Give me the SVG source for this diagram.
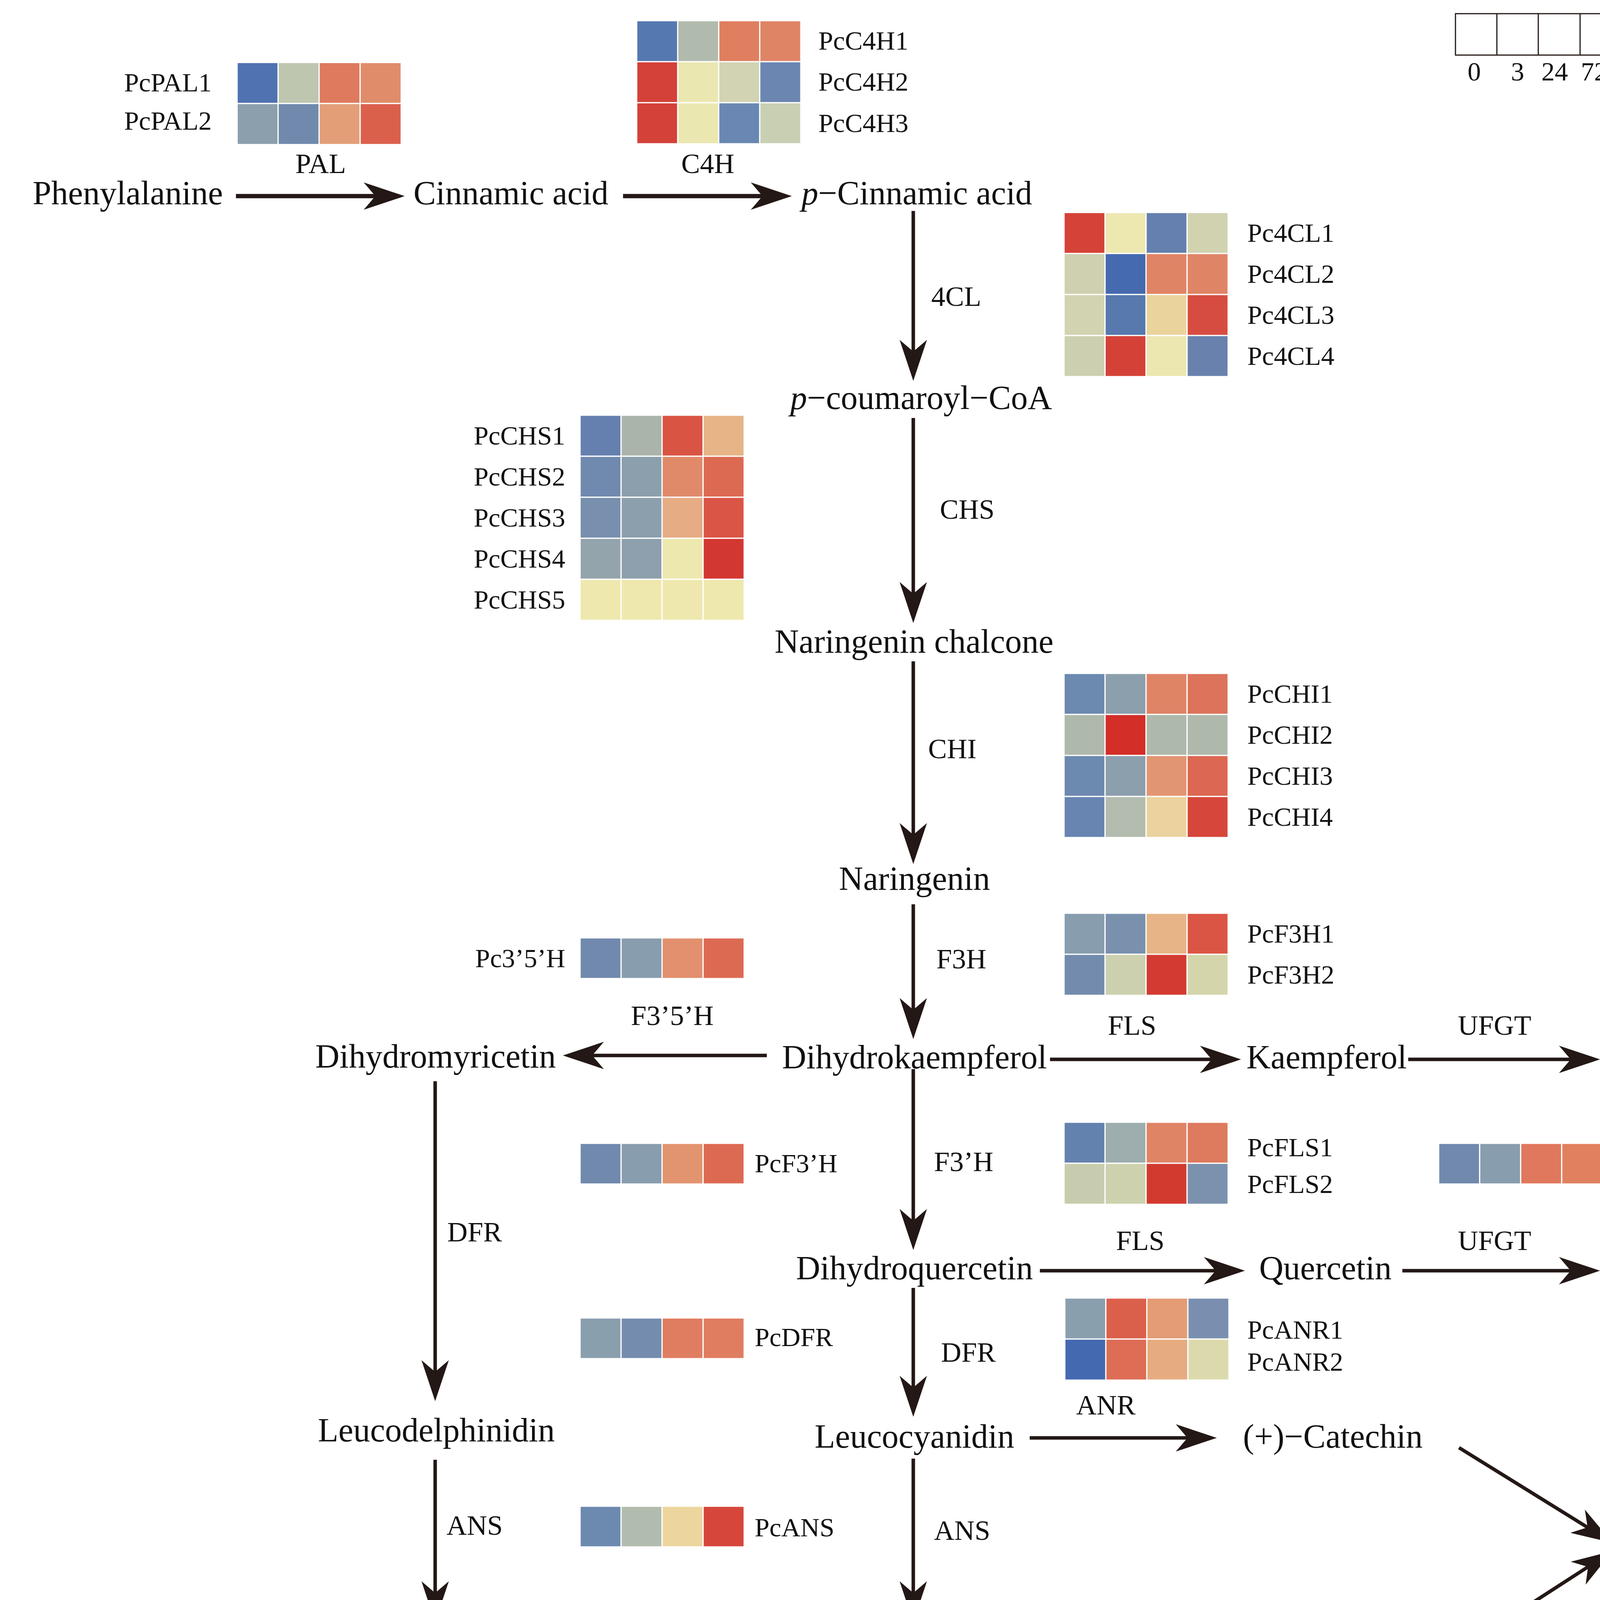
<svg xmlns="http://www.w3.org/2000/svg" width="4934" height="4875" viewBox="0 0 4934 4875">
<defs>
<style>
text{font-family:"Liberation Serif","Times New Roman",serif;fill:#111}
.m{font-size:86px;text-anchor:middle}
.e{font-size:72px;text-anchor:middle}
.g{font-size:68px}
.ge{font-size:68px;text-anchor:end}
.t{font-size:48px}
.c rect{stroke:#fff;stroke-width:3}
.a{stroke:#231815;stroke-width:9;fill:none;marker-end:url(#ah)}
.a2{stroke:#231815;stroke-width:11;fill:none;marker-end:url(#ah)}
</style>
<marker id="ah" markerUnits="userSpaceOnUse" markerWidth="105" markerHeight="70" refX="45" refY="35" orient="auto" viewBox="0 0 105 70">
<path d="M0,0 L105,35 L0,70 L30,35 Z" fill="#231815"/>
</marker>
<linearGradient id="cb" x1="0" y1="0" x2="0" y2="1">
<stop offset="0" stop-color="#d6302b"/>
<stop offset="0.1667" stop-color="#df6a52"/>
<stop offset="0.3333" stop-color="#e6a67e"/>
<stop offset="0.5" stop-color="#eee9ad"/>
<stop offset="0.6667" stop-color="#b8bfae"/>
<stop offset="0.8333" stop-color="#8196b3"/>
<stop offset="1" stop-color="#3a5fb0"/>
</linearGradient>
</defs>
<rect width="4934" height="4875" fill="#fff"/>

<!-- legend -->
<g id="legend">
<g fill="none" stroke="#231815" stroke-width="3">
<rect x="3726" y="35" width="425" height="106"/>
<line x1="3832" y1="35" x2="3832" y2="141"/>
<line x1="3938" y1="35" x2="3938" y2="141"/>
<line x1="4045" y1="35" x2="4045" y2="141"/>
</g>
<text class="g" x="3774" y="206" text-anchor="middle">0</text>
<text class="g" x="3885" y="206" text-anchor="middle">3</text>
<text class="g" x="3980" y="206" text-anchor="middle">24</text>
<text class="g" x="4081" y="206" text-anchor="middle">72</text>
<text class="g" x="4157" y="206" text-anchor="middle">h</text>
</g>
<g id="colorbar">
<rect x="4521" y="247" width="109" height="638" fill="url(#cb)"/>
<g stroke="#111" stroke-width="3">
<line x1="4630" y1="247" x2="4630" y2="885"/>
<line x1="4630" y1="247" x2="4642" y2="247"/>
<line x1="4630" y1="353" x2="4642" y2="353"/>
<line x1="4630" y1="459" x2="4642" y2="459"/>
<line x1="4630" y1="566" x2="4642" y2="566"/>
<line x1="4630" y1="672" x2="4642" y2="672"/>
<line x1="4630" y1="778" x2="4642" y2="778"/>
<line x1="4630" y1="885" x2="4642" y2="885"/>
</g>
<text class="t" x="4655" y="257">1.50</text>
<text class="t" x="4655" y="362">1.00</text>
<text class="t" x="4655" y="467">0.50</text>
<text class="t" x="4655" y="574">0.00</text>
<text class="t" x="4655" y="680">-0.50</text>
<text class="t" x="4655" y="786">-1.00</text>
<text class="t" x="4655" y="890">-1.50</text>
</g>

<!-- connectors -->
<g id="connectors">
<line class="a2" x1="604" y1="502" x2="976" y2="502"/>
<line class="a2" x1="1595" y1="502" x2="1967" y2="502"/>
<line class="a" x1="2338" y1="540" x2="2338" y2="915"/>
<line class="a" x1="2338" y1="1070" x2="2338" y2="1535"/>
<line class="a" x1="2338" y1="1693" x2="2338" y2="2152"/>
<line class="a" x1="2338" y1="2315" x2="2338" y2="2600"/>
<line class="a" x1="2338" y1="2737" x2="2338" y2="3140"/>
<line class="a" x1="2338" y1="3297" x2="2338" y2="3567"/>
<line class="a" x1="2338" y1="3734" x2="2338" y2="4093"/>
<line class="a" x1="2338" y1="4263" x2="2338" y2="4533"/>
<line class="a" x1="1963" y1="2702" x2="1501" y2="2702"/>
<line class="a" x1="1114" y1="2768" x2="1114" y2="3527"/>
<line class="a" x1="1114" y1="3737" x2="1114" y2="4093"/>
<line class="a" x1="1114" y1="4263" x2="1114" y2="4533"/>
<line class="a" x1="2688" y1="2712" x2="3117" y2="2712"/>
<line class="a" x1="3605" y1="2712" x2="4036" y2="2712"/>
<line class="a" x1="2662" y1="3253" x2="3127" y2="3253"/>
<line class="a" x1="3590" y1="3253" x2="4036" y2="3253"/>
<line class="a" x1="2636" y1="3681" x2="3055" y2="3681"/>
<line class="a" x1="2539" y1="4213" x2="3102" y2="4213"/>
<line class="a" x1="3735" y1="3706" x2="4077" y2="3918"/>
<line class="a" x1="3753" y1="4213" x2="4078" y2="4003"/>
</g>

<!-- compound nodes -->
<g id="n-phenylalanine"><text class="m" x="327" y="523">Phenylalanine</text></g>
<g id="n-cinnamic"><text class="m" x="1308" y="523">Cinnamic acid</text></g>
<g id="n-pcinnamic"><text class="m" x="2347" y="523"><tspan font-style="italic">p</tspan>−Cinnamic acid</text></g>
<g id="n-coumaroyl"><text class="m" x="2358" y="1047"><tspan font-style="italic">p</tspan>−coumaroyl−CoA</text></g>
<g id="n-chalcone"><text class="m" x="2340" y="1671">Naringenin chalcone</text></g>
<g id="n-naringenin"><text class="m" x="2341" y="2278">Naringenin</text></g>
<g id="n-dihydromyricetin"><text class="m" x="1115" y="2733">Dihydromyricetin</text></g>
<g id="n-dihydrokaempferol"><text class="m" x="2341" y="2735">Dihydrokaempferol</text></g>
<g id="n-kaempferol"><text class="m" x="3396" y="2735">Kaempferol</text></g>
<g id="n-flavonol1"><text class="m" x="4464" y="2735">Flavonol glucosides</text></g>
<g id="n-dihydroquercetin"><text class="m" x="2341" y="3275">Dihydroquercetin</text></g>
<g id="n-quercetin"><text class="m" x="3393" y="3275">Quercetin</text></g>
<g id="n-flavonol2"><text class="m" x="4464" y="3275">Flavonol glucosides</text></g>
<g id="n-leucodelphinidin"><text class="m" x="1117" y="3690">Leucodelphinidin</text></g>
<g id="n-leucocyanidin"><text class="m" x="2341" y="3706">Leucocyanidin</text></g>
<g id="n-catechin"><text class="m" x="3412" y="3706">(+)−Catechin</text></g>
<g id="n-proanthocyanidin"><text class="m" x="4441" y="3973">Proanthocyanidin</text></g>
<g id="n-delphinidin"><text class="m" x="1115" y="4232">Delphinidin</text></g>
<g id="n-cyanidin"><text class="m" x="2339" y="4235">Cyanidin</text></g>
<g id="n-epicatechin"><text class="m" x="3451" y="4235">(-)−Epicatechin</text></g>
<g id="n-delph3g"><text class="m" x="1136" y="4672">Delphinidin 3−O−glucoside</text></g>
<g id="n-cyan3g"><text class="m" x="2360" y="4672">Cyanidin 3−O−glucoside</text></g>

<!-- enzyme labels -->
<g id="enzymes">
<text class="e" x="821" y="443">PAL</text>
<text class="e" x="1812" y="443">C4H</text>
<text class="e" x="2448" y="783">4CL</text>
<text class="e" x="2476" y="1328">CHS</text>
<text class="e" x="2438" y="1941">CHI</text>
<text class="e" x="2461" y="2479">F3H</text>
<text class="e" x="1721" y="2624">F3’5’H</text>
<text class="e" x="2898" y="2649">FLS</text>
<text class="e" x="3826" y="2649">UFGT</text>
<text class="e" x="2467" y="2998">F3’H</text>
<text class="e" x="1215" y="3178">DFR</text>
<text class="e" x="2919" y="3200">FLS</text>
<text class="e" x="3826" y="3200">UFGT</text>
<text class="e" x="2479" y="3486">DFR</text>
<text class="e" x="2831" y="3621">ANR</text>
<text class="e" x="1215" y="3929">ANS</text>
<text class="e" x="2463" y="3942">ANS</text>
<text class="e" x="2831" y="4143">LAR</text>
<text class="e" x="1233" y="4420">UFGT</text>
<text class="e" x="2492" y="4420">UFGT</text>
</g>

<!-- heatmaps -->
<g id="hm-pal" class="c">
<rect x="607" y="160" width="105" height="105" fill="#4f72b0"/><rect x="712" y="160" width="105" height="105" fill="#bfc6b0"/><rect x="817" y="160" width="105" height="105" fill="#df7a5e"/><rect x="922" y="160" width="105" height="105" fill="#e08c6a"/>
<rect x="607" y="265" width="105" height="105" fill="#8c9fad"/><rect x="712" y="265" width="105" height="105" fill="#7089ad"/><rect x="817" y="265" width="105" height="105" fill="#e39e77"/><rect x="922" y="265" width="105" height="105" fill="#db604c"/>
<text class="ge" x="542" y="234">PcPAL1</text>
<text class="ge" x="542" y="332">PcPAL2</text>
</g>
<g id="hm-c4h" class="c">
<rect x="1630" y="53" width="105" height="105" fill="#5578b0"/><rect x="1735" y="53" width="105" height="105" fill="#b0bbad"/><rect x="1840" y="53" width="105" height="105" fill="#e07e60"/><rect x="1945" y="53" width="105" height="105" fill="#e08466"/>
<rect x="1630" y="158" width="105" height="105" fill="#d44139"/><rect x="1735" y="158" width="105" height="105" fill="#ebe7b0"/><rect x="1840" y="158" width="105" height="105" fill="#d1d3b3"/><rect x="1945" y="158" width="105" height="105" fill="#6b86b0"/>
<rect x="1630" y="263" width="105" height="105" fill="#d44139"/><rect x="1735" y="263" width="105" height="105" fill="#ebe7b0"/><rect x="1840" y="263" width="105" height="105" fill="#6987b2"/><rect x="1945" y="263" width="105" height="105" fill="#c9cfb2"/>
<text class="g" x="2095" y="127">PcC4H1</text>
<text class="g" x="2095" y="232">PcC4H2</text>
<text class="g" x="2095" y="338">PcC4H3</text>
</g>
<g id="hm-4cl" class="c">
<rect x="2724" y="544" width="105" height="105" fill="#d54237"/><rect x="2829" y="544" width="105" height="105" fill="#ede8b0"/><rect x="2934" y="544" width="105" height="105" fill="#6580ae"/><rect x="3039" y="544" width="105" height="105" fill="#d0d2b0"/>
<rect x="2724" y="649" width="105" height="105" fill="#cfd0b0"/><rect x="2829" y="649" width="105" height="105" fill="#456aad"/><rect x="2934" y="649" width="105" height="105" fill="#e08466"/><rect x="3039" y="649" width="105" height="105" fill="#e08466"/>
<rect x="2724" y="754" width="105" height="105" fill="#d2d3b0"/><rect x="2829" y="754" width="105" height="105" fill="#5779ae"/><rect x="2934" y="754" width="105" height="105" fill="#ead49c"/><rect x="3039" y="754" width="105" height="105" fill="#d74c40"/>
<rect x="2724" y="859" width="105" height="105" fill="#cdd0b0"/><rect x="2829" y="859" width="105" height="105" fill="#d44137"/><rect x="2934" y="859" width="105" height="105" fill="#ece7b0"/><rect x="3039" y="859" width="105" height="105" fill="#6882ad"/>
<text class="g" x="3193" y="619">Pc4CL1</text>
<text class="g" x="3193" y="724">Pc4CL2</text>
<text class="g" x="3193" y="829">Pc4CL3</text>
<text class="g" x="3193" y="934">Pc4CL4</text>
</g>
<g id="hm-chs" class="c">
<rect x="1485" y="1063" width="105" height="105" fill="#6580ae"/><rect x="1590" y="1063" width="105" height="105" fill="#aab4ab"/><rect x="1695" y="1063" width="105" height="105" fill="#da5444"/><rect x="1800" y="1063" width="105" height="105" fill="#e6b486"/>
<rect x="1485" y="1168" width="105" height="105" fill="#7089ae"/><rect x="1590" y="1168" width="105" height="105" fill="#8b9fad"/><rect x="1695" y="1168" width="105" height="105" fill="#e08a6a"/><rect x="1800" y="1168" width="105" height="105" fill="#dc6a52"/>
<rect x="1485" y="1273" width="105" height="105" fill="#788fae"/><rect x="1590" y="1273" width="105" height="105" fill="#8c9fad"/><rect x="1695" y="1273" width="105" height="105" fill="#e6ac83"/><rect x="1800" y="1273" width="105" height="105" fill="#da5546"/>
<rect x="1485" y="1378" width="105" height="105" fill="#94a4ad"/><rect x="1590" y="1378" width="105" height="105" fill="#8ea0ad"/><rect x="1695" y="1378" width="105" height="105" fill="#ede8ae"/><rect x="1800" y="1378" width="105" height="105" fill="#d33731"/>
<rect x="1485" y="1483" width="105" height="105" fill="#efe8ae"/><rect x="1590" y="1483" width="105" height="105" fill="#efe8ae"/><rect x="1695" y="1483" width="105" height="105" fill="#efe8ae"/><rect x="1800" y="1483" width="105" height="105" fill="#efe8ae"/>
<text class="ge" x="1447" y="1138">PcCHS1</text>
<text class="ge" x="1447" y="1243">PcCHS2</text>
<text class="ge" x="1447" y="1348">PcCHS3</text>
<text class="ge" x="1447" y="1453">PcCHS4</text>
<text class="ge" x="1447" y="1558">PcCHS5</text>
</g>
<g id="hm-chi" class="c">
<rect x="2724" y="1724" width="105" height="105" fill="#6c89b0"/><rect x="2829" y="1724" width="105" height="105" fill="#8c9fad"/><rect x="2934" y="1724" width="105" height="105" fill="#e08466"/><rect x="3039" y="1724" width="105" height="105" fill="#dc735a"/>
<rect x="2724" y="1829" width="105" height="105" fill="#aeb8ab"/><rect x="2829" y="1829" width="105" height="105" fill="#d32e28"/><rect x="2934" y="1829" width="105" height="105" fill="#aeb8ab"/><rect x="3039" y="1829" width="105" height="105" fill="#aeb8ab"/>
<rect x="2724" y="1934" width="105" height="105" fill="#6c89b0"/><rect x="2829" y="1934" width="105" height="105" fill="#8c9fad"/><rect x="2934" y="1934" width="105" height="105" fill="#e29572"/><rect x="3039" y="1934" width="105" height="105" fill="#dc6752"/>
<rect x="2724" y="2039" width="105" height="105" fill="#6884b0"/><rect x="2829" y="2039" width="105" height="105" fill="#b3bcae"/><rect x="2934" y="2039" width="105" height="105" fill="#ebd29e"/><rect x="3039" y="2039" width="105" height="105" fill="#d6463b"/>
<text class="g" x="3193" y="1799">PcCHI1</text>
<text class="g" x="3193" y="1904">PcCHI2</text>
<text class="g" x="3193" y="2009">PcCHI3</text>
<text class="g" x="3193" y="2114">PcCHI4</text>
</g>
<g id="hm-f35h" class="c">
<rect x="1485" y="2401" width="105" height="104" fill="#7089ad"/><rect x="1590" y="2401" width="105" height="104" fill="#889dae"/><rect x="1695" y="2401" width="105" height="104" fill="#e2906e"/><rect x="1800" y="2401" width="105" height="104" fill="#dc6a52"/>
<text class="ge" x="1447" y="2476">Pc3’5’H</text>
</g>
<g id="hm-f3h" class="c">
<rect x="2724" y="2338" width="105" height="105" fill="#889dae"/><rect x="2829" y="2338" width="105" height="105" fill="#7a91ae"/><rect x="2934" y="2338" width="105" height="105" fill="#e6b486"/><rect x="3039" y="2338" width="105" height="105" fill="#db5544"/>
<rect x="2724" y="2443" width="105" height="105" fill="#738cae"/><rect x="2829" y="2443" width="105" height="105" fill="#cdd0ae"/><rect x="2934" y="2443" width="105" height="105" fill="#d33a31"/><rect x="3039" y="2443" width="105" height="105" fill="#d4d5ab"/>
<text class="g" x="3193" y="2413">PcF3H1</text>
<text class="g" x="3193" y="2518">PcF3H2</text>
</g>
<g id="hm-f3ph" class="c">
<rect x="1485" y="2927" width="105" height="104" fill="#7089ad"/><rect x="1590" y="2927" width="105" height="104" fill="#889dae"/><rect x="1695" y="2927" width="105" height="104" fill="#e2946e"/><rect x="1800" y="2927" width="105" height="104" fill="#dc6a52"/>
<text class="g" x="1932" y="3001">PcF3’H</text>
</g>
<g id="hm-fls" class="c">
<rect x="2724" y="2873" width="105" height="105" fill="#6482ae"/><rect x="2829" y="2873" width="105" height="105" fill="#9eadad"/><rect x="2934" y="2873" width="105" height="105" fill="#e08466"/><rect x="3039" y="2873" width="105" height="105" fill="#de7a5e"/>
<rect x="2724" y="2978" width="105" height="105" fill="#c8ccae"/><rect x="2829" y="2978" width="105" height="105" fill="#cdd1ae"/><rect x="2934" y="2978" width="105" height="105" fill="#d33a2f"/><rect x="3039" y="2978" width="105" height="105" fill="#7b92ae"/>
<text class="g" x="3193" y="2960">PcFLS1</text>
<text class="g" x="3193" y="3054">PcFLS2</text>
</g>
<g id="hm-ufgt1" class="c">
<rect x="3683" y="2927" width="105" height="104" fill="#7089ad"/><rect x="3788" y="2927" width="105" height="104" fill="#889dae"/><rect x="3893" y="2927" width="105" height="104" fill="#df785c"/><rect x="3998" y="2927" width="105" height="104" fill="#e0805f"/>
<text class="g" x="4153" y="2996">PcUFGT</text>
</g>
<g id="hm-dfr" class="c">
<rect x="1485" y="3374" width="105" height="104" fill="#8a9fae"/><rect x="1590" y="3374" width="105" height="104" fill="#748dae"/><rect x="1695" y="3374" width="105" height="104" fill="#e07d60"/><rect x="1800" y="3374" width="105" height="104" fill="#e07d60"/>
<text class="g" x="1932" y="3446">PcDFR</text>
</g>
<g id="hm-anr" class="c">
<rect x="2726" y="3323" width="105" height="105" fill="#8a9fae"/><rect x="2831" y="3323" width="105" height="105" fill="#db604c"/><rect x="2936" y="3323" width="105" height="105" fill="#e39c74"/><rect x="3041" y="3323" width="105" height="105" fill="#7a8faf"/>
<rect x="2726" y="3428" width="105" height="105" fill="#4569b0"/><rect x="2831" y="3428" width="105" height="105" fill="#de6d55"/><rect x="2936" y="3428" width="105" height="105" fill="#e6ac80"/><rect x="3041" y="3428" width="105" height="105" fill="#dcdaad"/>
<text class="g" x="3193" y="3427">PcANR1</text>
<text class="g" x="3193" y="3509">PcANR2</text>
</g>
<g id="hm-ans" class="c">
<rect x="1485" y="3856" width="105" height="104" fill="#6c89b0"/><rect x="1590" y="3856" width="105" height="104" fill="#b1bcae"/><rect x="1695" y="3856" width="105" height="104" fill="#edd59e"/><rect x="1800" y="3856" width="105" height="104" fill="#d6463b"/>
<text class="g" x="1932" y="3933">PcANS</text>
</g>
<g id="hm-ufgt2" class="c">
<rect x="1485" y="4345" width="105" height="104" fill="#6f8bb0"/><rect x="1590" y="4345" width="105" height="104" fill="#8c9fad"/><rect x="1695" y="4345" width="105" height="104" fill="#df7a5e"/><rect x="1800" y="4345" width="105" height="104" fill="#e08466"/>
<text class="g" x="1932" y="4421">PcUFGT</text>
</g>
<g id="hm-lar" class="c">
<rect x="2910" y="4320" width="105" height="105" fill="#eac994"/><rect x="3015" y="4320" width="105" height="105" fill="#d84b3f"/><rect x="3120" y="4320" width="105" height="105" fill="#b2bcae"/><rect x="3225" y="4320" width="105" height="105" fill="#6582ae"/>
<rect x="2910" y="4425" width="105" height="105" fill="#d84d41"/><rect x="3015" y="4425" width="105" height="105" fill="#e8b88a"/><rect x="3120" y="4425" width="105" height="105" fill="#7e95ae"/><rect x="3225" y="4425" width="105" height="105" fill="#8a9fad"/>
<rect x="2910" y="4530" width="105" height="105" fill="#efe9af"/><rect x="3015" y="4530" width="105" height="105" fill="#efe9af"/><rect x="3120" y="4530" width="105" height="105" fill="#efe9af"/><rect x="3225" y="4530" width="105" height="105" fill="#efe9af"/>
<rect x="2910" y="4635" width="105" height="105" fill="#8196ae"/><rect x="3015" y="4635" width="105" height="105" fill="#8196ae"/><rect x="3120" y="4635" width="105" height="105" fill="#e8b88a"/><rect x="3225" y="4635" width="105" height="105" fill="#d84b3f"/>
<rect x="2910" y="4740" width="105" height="105" fill="#e8aa80"/><rect x="3015" y="4740" width="105" height="105" fill="#b2bcae"/><rect x="3120" y="4740" width="105" height="105" fill="#5878b0"/><rect x="3225" y="4740" width="105" height="105" fill="#da5d4b"/>
<text class="g" x="3385" y="4390">PcLAR1</text>
<text class="g" x="3385" y="4496">PcLAR2</text>
<text class="g" x="3385" y="4604">PcLAR3</text>
<text class="g" x="3385" y="4711">PcLAR4</text>
<text class="g" x="3385" y="4818">PcLAR5</text>
</g>
</svg>
